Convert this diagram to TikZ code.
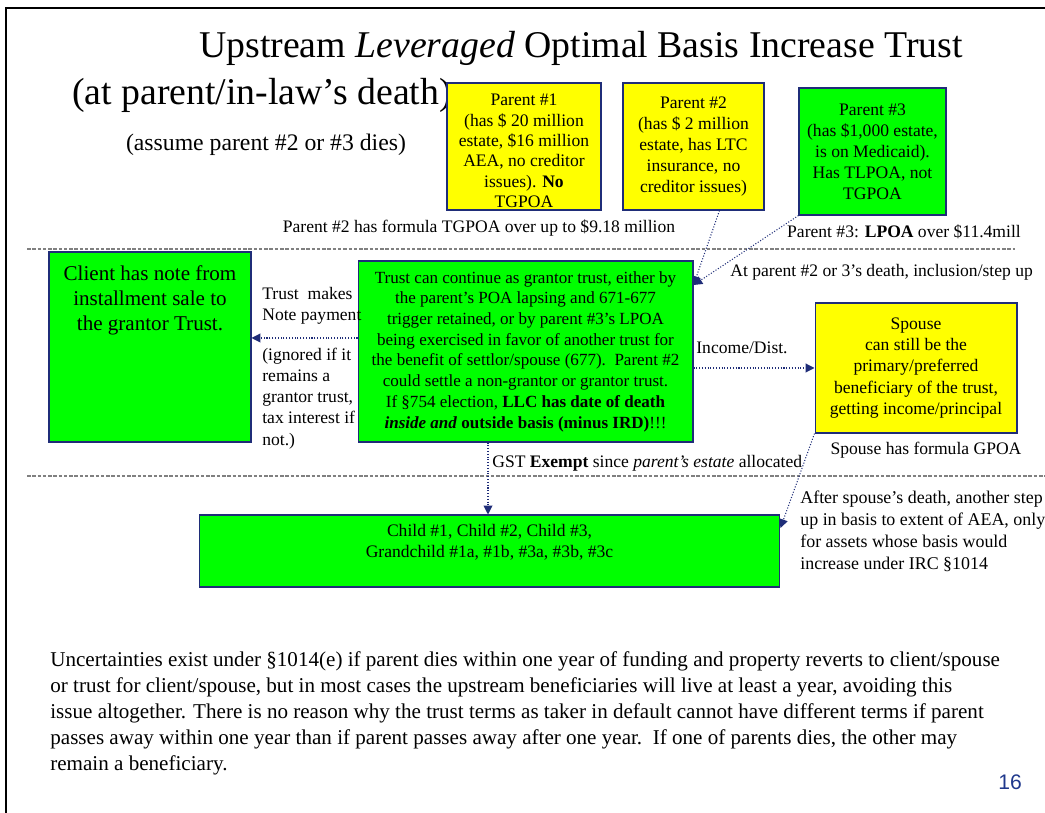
\documentclass[tikz,border=0pt]{standalone}
\usepackage{fontspec}
\setmainfont{Liberation Serif}
\newfontfamily\slidesans{Liberation Sans}
\usetikzlibrary{arrows.meta,positioning,calc}
\definecolor{slgreen}{RGB}{0,255,0}
\definecolor{slyellow}{RGB}{255,255,0}
\definecolor{slnavy}{RGB}{31,45,120}
\definecolor{slgray}{RGB}{128,128,128}
\definecolor{slblue}{RGB}{31,56,140}

\tikzset{
  greenbox/.style={draw=slnavy, line width=0.6pt, fill=slgreen, inner sep=0pt, align=center},
  yellowbox/.style={draw=slnavy, line width=0.6pt, fill=slyellow, inner sep=0pt, align=center},
  conn/.style={slnavy, densely dotted, line width=0.6pt, -{Triangle[width=5pt,length=5pt]}},
  divider/.style={slgray, line width=0.8pt, dash pattern=on 2pt off 1pt},
  lbl/.style={font=\fontsize{10}{12}\selectfont, inner sep=0pt},
}

\begin{document}
\begin{tikzpicture}[x=0.02cm, y=-0.02cm]
\useasboundingbox (0,0) rectangle (1045,813);

% === Slide frame ===
\draw[line width=1.4pt] (6,813) -- (6,8) -- (1045,8);

% === Title ===
\node[font=\fontsize{21.5}{26}\selectfont] (title) at (581,48) {Upstream \textit{Leveraged} Optimal Basis Increase Trust};
\node[font=\fontsize{21.5}{26}\selectfont] (subtitle) at (262,95) {(at parent/in-law's death)};
\node[font=\fontsize{13.5}{16}\selectfont] (assume) at (266,145) {(assume parent \#2 or \#3 dies)};

% === Parents (top row) ===
\node[yellowbox, minimum width=3.08cm, minimum height=2.54cm] (par1) at (524,146.5) {};
\node[font=\fontsize{10}{11.6}\selectfont, align=center, inner sep=0pt] (par1txt) at (524,151)
     {Parent \#1\\(has \$ 20 million\\estate, \$16 million\\AEA, no creditor\\issues). \textbf{No}\\TGPOA};
\node[yellowbox, minimum width=2.82cm, minimum height=2.54cm, font=\fontsize{10}{12}\selectfont] (par2) at (693.5,146.5)
     {Parent \#2\\(has \$ 2 million\\estate, has LTC\\insurance, no\\creditor issues)};
\node[greenbox, minimum width=2.94cm, minimum height=2.54cm, font=\fontsize{10}{12}\selectfont] (par3) at (872.5,151.5)
     {Parent \#3\\(has \$1,000 estate,\\is on Medicaid).\\Has TLPOA, not\\TGPOA};

\node[lbl] (par2note) at (479,228) {Parent \#2 has formula TGPOA over up to \$9.18 million};
\node[lbl] (par3note) at (904,232) {Parent \#3: \textbf{LPOA} over \$11.4mill};

% === Dividers ===
\draw[divider] (27,249) -- (1015,249);
\draw[divider] (27,476) -- (1045,476);

% === Client and Trust ===
\node[greenbox, minimum width=4.04cm, minimum height=3.8cm] (client) at (150,347) {};
\node[font=\fontsize{12}{14.4}\selectfont, align=center, anchor=north, inner sep=0pt] (clienttxt) at (150,265)
     {Client has note from\\installment sale to\\the grantor Trust.};

\node[greenbox, minimum width=6.7cm, minimum height=3.62cm, font=\fontsize{9.7}{11.8}\selectfont] (trust) at (525.5,351.5)
     {Trust can continue as grantor trust, either by\\the parent's POA lapsing and 671-677\\trigger retained, or by parent \#3's LPOA\\being exercised in favor of another trust for\\the benefit of settlor/spouse (677).\ \ Parent \#2\\could settle a non-grantor or grantor trust.\\If \S754 election, \textbf{LLC has date of death}\\\textbf{\textit{inside and} outside basis (minus IRD)}!!!};

\node[lbl, align=left, anchor=north west] (paytxt) at (262,287) {Trust\ \ makes\\Note payment};
\node[lbl, align=left, anchor=north west] (ignoretxt) at (262,348) {(ignored if it\\remains a\\grantor trust,\\tax interest if\\not.)};
\coordinate (paypt) at (300,338);
\draw[conn] (trust.west |- paypt) -- (client.east |- paypt);

% === Parents into Trust ===
\node[lbl, anchor=west] (deathtxt) at (730,272) {At parent \#2 or 3's death, inclusion/step up};
\coordinate (steppt) at (700,285);
\draw[conn] ($(par2.south)+(26,0)$) -- (trust.east |- steppt);
\draw[conn] (par3.south west) -- (trust.east |- steppt);

% === Spouse ===
\node[yellowbox, minimum width=4.04cm, minimum height=2.6cm, font=\fontsize{10}{12}\selectfont] (spouse) at (916,368)
     {Spouse\\can still be the\\primary/preferred\\beneficiary of the trust,\\getting income/principal};
\node[lbl] (inctxt) at (742,348) {Income/Dist.};
\draw[conn] (trust.east |- spouse.west) -- (spouse.west);
\node[lbl] (gpoatxt) at (926,450) {Spouse has formula GPOA};

% === Children ===
\node[greenbox, minimum width=11.62cm, minimum height=1.44cm] (child) at (489.5,551) {};
\node[font=\fontsize{10}{12}\selectfont, align=center, inner sep=0pt] (childtxt) at (489.5,542.5)
     {Child \#1, Child \#2, Child \#3,\\Grandchild \#1a, \#1b, \#3a, \#3b, \#3c};

\node[lbl, anchor=west] (gsttxt) at (492,463) {GST \textbf{Exempt} since \textit{parent's estate} allocated};
\coordinate (gstpt) at (488,480);
\draw[conn] (trust.south -| gstpt) -- (child.north -| gstpt);

\node[font=\fontsize{10.2}{12.5}\selectfont, align=left, anchor=north west, inner sep=0pt] (aftertxt) at (800,491)
     {After spouse's death, another step\\up in basis to extent of AEA, only\\for assets whose basis would\\increase under IRC \S1014};
\coordinate (afterpt) at (790,528);
\draw[conn] (spouse.south west) -- (child.east |- afterpt);

% === Footnote ===
\node[font=\fontsize{12}{14.8}\selectfont, align=left, anchor=north west, inner sep=0pt] (note) at (50,651)
     {Uncertainties exist under \S1014(e) if parent dies within one year of funding and property reverts to client/spouse\\or trust for client/spouse, but in most cases the upstream beneficiaries will live at least a year, avoiding this\\issue altogether. There is no reason why the trust terms as taker in default cannot have different terms if parent\\passes away within one year than if parent passes away after one year.\ \ If one of parents dies, the other may\\remain a beneficiary.};
\node[font=\slidesans\fontsize{12}{14}\selectfont, text=slblue] (pagenum) at (1010,782) {16};

\end{tikzpicture}
\end{document}
